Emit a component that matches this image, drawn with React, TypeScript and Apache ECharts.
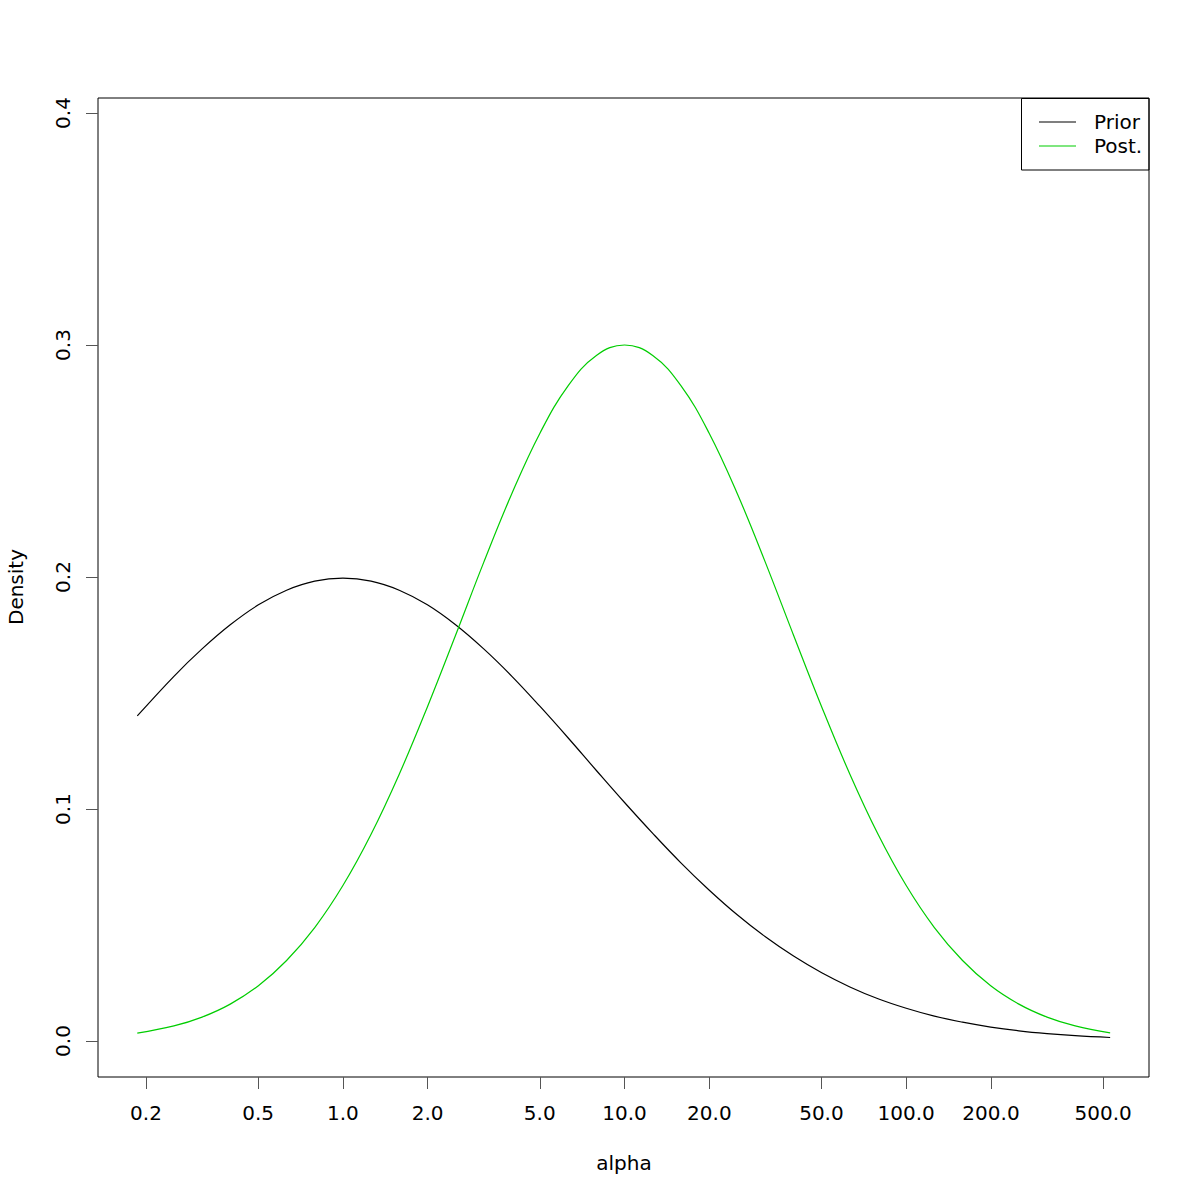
import React, { useEffect, useRef } from "react";
import * as echarts from "echarts";

// alpha grid (read along the log x-axis)
const alpha = [
  0.1862, 0.2512, 0.3162, 0.3981, 0.5012, 0.631, 0.7943, 1, 1.259, 1.585,
  1.995, 2.512, 3.162, 3.981, 5.012, 6.31, 7.943, 10, 12.59, 15.85, 19.95,
  25.12, 31.62, 39.81, 50.12, 63.1, 79.43, 100, 125.9, 158.5, 199.5, 251.2,
  316.2, 398.1, 529.7,
];
// Prior density (black)
const prior = [
  0.1401, 0.1572, 0.169, 0.1794, 0.188, 0.1943, 0.1982, 0.1995, 0.1982, 0.1943,
  0.188, 0.1794, 0.169, 0.1572, 0.1442, 0.1306, 0.1166, 0.1028, 0.0895, 0.0768,
  0.0651, 0.0544, 0.0449, 0.0366, 0.0294, 0.0233, 0.0182, 0.0141, 0.0107,
  0.0081, 0.006, 0.0044, 0.0032, 0.0023, 0.0015,
];
// Posterior density (green)
const post = [
  0.0034, 0.0065, 0.0103, 0.0159, 0.0238, 0.0347, 0.0489, 0.067, 0.0891, 0.115,
  0.144, 0.1749, 0.2063, 0.236, 0.2621, 0.2825, 0.2955, 0.3, 0.2955, 0.2825,
  0.2621, 0.236, 0.2063, 0.1749, 0.144, 0.115, 0.0891, 0.067, 0.0489, 0.0347,
  0.0238, 0.0159, 0.0103, 0.0065, 0.0035,
];
const xTicks = [0.2, 0.5, 1, 2, 5, 10, 20, 50, 100, 200, 500];
const yTicks = [0, 0.1, 0.2, 0.3, 0.4];
const legendLabels = ["Prior", "Post."];
const colors = ["#000000", "#00CD00"];

const FONT = "DejaVu Sans";
const FS = 20;

export default function App() {
  const ref = useRef<HTMLDivElement>(null);
  useEffect(() => {
    if (!ref.current) return;
    const chart = echarts.init(ref.current, null, { renderer: "svg" });
    const xLog = xTicks.map((v) => Math.log10(v));
    const option: any = {
      animation: false,
      backgroundColor: "#ffffff",
      grid: {
        left: 98,
        top: 98,
        width: 1051,
        height: 979,
        show: true,
        borderColor: "#000",
        borderWidth: 1,
        backgroundColor: "transparent",
      },
      xAxis: {
        type: "value",
        min: -0.8695,
        max: 2.862,
        axisLine: { show: false, onZero: false },
        splitLine: { show: false },
        axisTick: {
          show: true,
          customValues: xLog,
          length: 12,
          lineStyle: { color: "#555", width: 1 },
        },
        axisLabel: {
          customValues: xLog,
          formatter: (v: number) => Math.pow(10, v).toFixed(1),
          fontFamily: FONT,
          fontSize: FS,
          color: "#000",
          margin: 26,
        },
      },
      yAxis: {
        type: "value",
        min: -0.01552,
        max: 0.40647,
        axisLine: { show: false, onZero: false },
        splitLine: { show: false },
        axisTick: {
          show: true,
          customValues: yTicks,
          length: 12,
          lineStyle: { color: "#555", width: 1 },
        },
        axisLabel: {
          customValues: yTicks,
          formatter: (v: number) => v.toFixed(1),
          rotate: 90,
          fontFamily: FONT,
          fontSize: FS,
          color: "#000",
          margin: 25,
        },
      },
      series: [
        {
          type: "line",
          name: legendLabels[0],
          data: alpha.map((a, i) => [Math.log10(a), prior[i]]),
          showSymbol: false,
          smooth: 0.4,
          lineStyle: { color: colors[0], width: 1.2 },
          itemStyle: { color: colors[0] },
          z: 2,
        },
        {
          type: "line",
          name: legendLabels[1],
          data: alpha.map((a, i) => [Math.log10(a), post[i]]),
          showSymbol: false,
          smooth: 0.4,
          lineStyle: { color: colors[1], width: 1.2 },
          itemStyle: { color: colors[1] },
          z: 3,
        },
      ],
      graphic: [
        {
          type: "text",
          x: 624,
          y: 1163,
          style: {
            text: "alpha",
            fontFamily: FONT,
            fontSize: FS,
            fill: "#000",
            align: "center",
            verticalAlign: "middle",
          },
        },
        {
          type: "text",
          x: 16,
          y: 587,
          rotation: Math.PI / 2,
          style: {
            text: "Density",
            fontFamily: FONT,
            fontSize: FS,
            fill: "#000",
            align: "center",
            verticalAlign: "middle",
          },
        },
        {
          type: "rect",
          shape: { x: 1021.5, y: 98.5, width: 127.5, height: 71.5 },
          style: { fill: "none", stroke: "#000", lineWidth: 1 },
          z: 10,
        },
        ...legendLabels.flatMap((label, i) => [
          {
            type: "line",
            shape: { x1: 1039, y1: 122 + i * 24, x2: 1076, y2: 122 + i * 24 },
            style: { stroke: colors[i], lineWidth: 1.2 },
            z: 10,
          },
          {
            type: "text",
            x: 1094,
            y: 122 + i * 24,
            style: {
              text: label,
              fontFamily: FONT,
              fontSize: FS,
              fill: "#000",
              align: "left",
              verticalAlign: "middle",
            },
            z: 10,
          },
        ]),
      ],
    };
    chart.setOption(option);
    return () => chart.dispose();
  }, []);
  return (
    <div
      ref={ref}
      style={{ position: "absolute", left: 0, top: 0, width: 1200, height: 1200 }}
    />
  );
}
